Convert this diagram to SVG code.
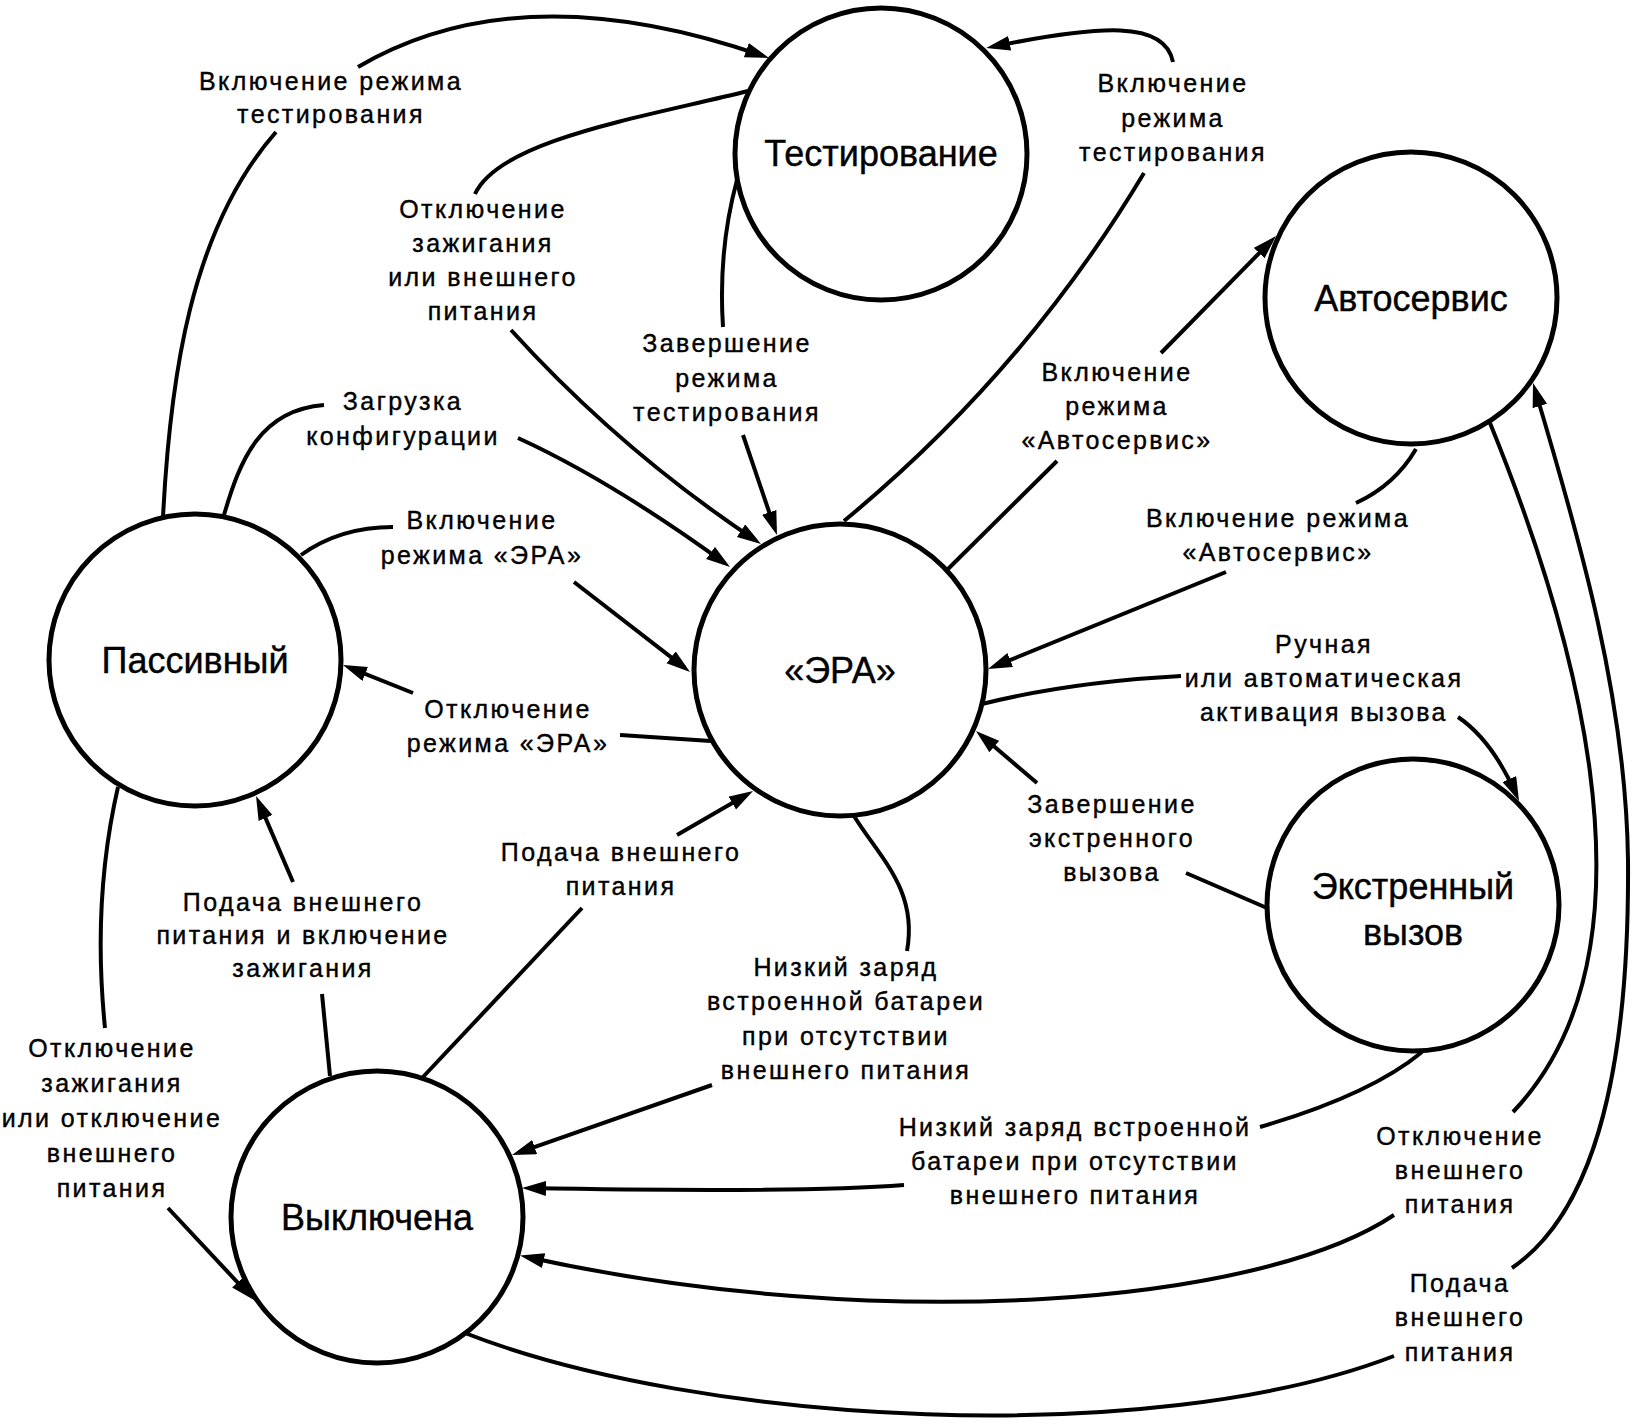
<svg xmlns="http://www.w3.org/2000/svg" width="1635" height="1428" viewBox="0 0 1635 1428">
<style>
.node circle{fill:#fff;stroke:#000;stroke-width:5}
.nl{font-family:"Liberation Sans",Arial,sans-serif;font-size:36px;text-anchor:middle;fill:#000;stroke:#000;stroke-width:0.4}
.el{font-family:"Liberation Sans",Arial,sans-serif;font-size:25px;letter-spacing:2.4px;text-anchor:middle;fill:#000;stroke:#000;stroke-width:0.4}
.c{fill:none;stroke:#000;stroke-width:4}
.a{marker-end:url(#arr)}
</style>
<defs>
<marker id="arr" markerUnits="userSpaceOnUse" markerWidth="26" markerHeight="16" refX="17" refY="7.5" orient="auto">
<path d="M0,0 L24,7.5 L0,15 Z" fill="#000"/>
</marker>
</defs>
<rect width="1635" height="1428" fill="#fff"/>
<g id="connectors">
<g id="e1">
<path class="c" d="M163,517 C170,380 190,230 276,132"/>
<path class="c a" d="M358,67 Q520,-28 762.4,55.7"/>
<text class="el"><tspan x="331" y="90">Включение режима</tspan><tspan x="331" y="123">тестирования</tspan></text>
</g>
<g id="e2">
<path class="c" d="M748,91 C640,118 500,140 475,194"/>
<path class="c a" d="M511,330 Q620,450 755.2,540.1"/>
<text class="el"><tspan x="483" y="218">Отключение</tspan><tspan x="483" y="252">зажигания</tspan><tspan x="483" y="286">или внешнего</tspan><tspan x="483" y="320">питания</tspan></text>
</g>
<g id="e3">
<path class="c" d="M737,180 Q718,250 723,327"/>
<path class="c a" d="M743,435 L774.7,528.4"/>
<text class="el"><tspan x="727" y="352">Завершение</tspan><tspan x="727" y="387">режима</tspan><tspan x="727" y="421">тестирования</tspan></text>
</g>
<g id="e4">
<path class="c" d="M224,515 C240,460 260,410 324,405"/>
<path class="c a" d="M518,438 Q610,480 724.3,562.9"/>
<text class="el"><tspan x="403" y="410">Загрузка</tspan><tspan x="403" y="445">конфигурации</tspan></text>
</g>
<g id="e5">
<path class="c" d="M301,555 Q340,527 393,527"/>
<path class="c a" d="M574,582 L684.5,667.7"/>
<text class="el"><tspan x="482" y="529">Включение</tspan><tspan x="482" y="564">режима «ЭРА»</tspan></text>
</g>
<g id="e6">
<path class="c" d="M711,741 L620,735"/>
<path class="c a" d="M413,693 L349.5,667.6"/>
<text class="el"><tspan x="508" y="718">Отключение</tspan><tspan x="508" y="752">режима «ЭРА»</tspan></text>
</g>
<g id="e7">
<path class="c" d="M844,521 Q1024,373 1144,173"/>
<path class="c a" d="M1173,62 C1165,20 1100,25 993,46.6"/>
<text class="el"><tspan x="1173" y="92">Включение</tspan><tspan x="1173" y="127">режима</tspan><tspan x="1173" y="161">тестирования</tspan></text>
</g>
<g id="e8">
<path class="c" d="M948,569 L1057,461"/>
<path class="c a" d="M1161,353 L1271.1,241"/>
<text class="el"><tspan x="1117" y="381">Включение</tspan><tspan x="1117" y="415">режима</tspan><tspan x="1117" y="449">«Автосервис»</tspan></text>
</g>
<g id="e9">
<path class="c" d="M1416,449 Q1395,485 1356,503"/>
<path class="c a" d="M1226,572 L994.5,666.4"/>
<text class="el"><tspan x="1278" y="527">Включение режима</tspan><tspan x="1278" y="561">«Автосервис»</tspan></text>
</g>
<g id="e10">
<path class="c" d="M982,704 Q1070,682 1181,676"/>
<path class="c a" d="M1458,717 Q1492,740 1516.2,794.6"/>
<text class="el"><tspan x="1324" y="653">Ручная</tspan><tspan x="1324" y="687">или автоматическая</tspan><tspan x="1324" y="721">активация вызова</tspan></text>
</g>
<g id="e11">
<path class="c" d="M1267,908 L1186,873"/>
<path class="c a" d="M1037,783 L981.3,735.5"/>
<text class="el"><tspan x="1112" y="813">Завершение</tspan><tspan x="1112" y="847">экстренного</tspan><tspan x="1112" y="881">вызова</tspan></text>
</g>
<g id="e12">
<path class="c" d="M854,816 C880,858 918,890 907,951"/>
<path class="c a" d="M712,1085 L518.6,1152.7"/>
<text class="el"><tspan x="846" y="976">Низкий заряд</tspan><tspan x="846" y="1010">встроенной батареи</tspan><tspan x="846" y="1045">при отсутствии</tspan><tspan x="846" y="1079">внешнего питания</tspan></text>
</g>
<g id="e13">
<path class="c" d="M423,1077 L582,908"/>
<path class="c a" d="M677,835 L747,794.5"/>
<text class="el"><tspan x="621" y="861">Подача внешнего</tspan><tspan x="621" y="895">питания</tspan></text>
</g>
<g id="e14">
<path class="c" d="M330,1076 L322,994"/>
<path class="c a" d="M293,882 L258.8,802.4"/>
<text class="el"><tspan x="303" y="911">Подача внешнего</tspan><tspan x="303" y="944">питания и включение</tspan><tspan x="303" y="977">зажигания</tspan></text>
</g>
<g id="e15">
<path class="c" d="M118,787 Q92,900 105,1028"/>
<path class="c a" d="M168,1208 L249.2,1294.9"/>
<text class="el"><tspan x="112" y="1057">Отключение</tspan><tspan x="112" y="1092">зажигания</tspan><tspan x="112" y="1127">или отключение</tspan><tspan x="112" y="1162">внешнего</tspan><tspan x="112" y="1197">питания</tspan></text>
</g>
<g id="e16">
<path class="c" d="M1422,1052 Q1370,1095 1260,1127"/>
<path class="c a" d="M904,1185 Q800,1193 529,1188.1"/>
<text class="el"><tspan x="1075" y="1136">Низкий заряд встроенной</tspan><tspan x="1075" y="1170">батареи при отсутствии</tspan><tspan x="1075" y="1204">внешнего питания</tspan></text>
</g>
<g id="e17">
<path class="c" d="M1490,423 C1562,600 1676,940 1513,1112"/>
<path class="c a" d="M1394,1215 C1260,1305 880,1335 527,1257"/>
<text class="el"><tspan x="1460" y="1145">Отключение</tspan><tspan x="1460" y="1179">внешнего</tspan><tspan x="1460" y="1213">питания</tspan></text>
</g>
<g id="e18">
<path class="c" d="M465,1333 C700,1425 1150,1450 1394,1356"/>
<path class="c a" d="M1512,1268 C1575,1225 1630,1120 1628,860 C1626,700 1580,540 1535,389.7"/>
<text class="el"><tspan x="1460" y="1292">Подача</tspan><tspan x="1460" y="1326">внешнего</tspan><tspan x="1460" y="1361">питания</tspan></text>
</g>
</g>
<g id="node-testing" class="node"><circle cx="881" cy="154" r="146"/><text class="nl" x="881" y="166">Тестирование</text></g>
<g id="node-autoservice" class="node"><circle cx="1411" cy="298" r="146"/><text class="nl" x="1411" y="311">Автосервис</text></g>
<g id="node-era" class="node"><circle cx="840" cy="670" r="146"/><text class="nl" x="840" y="683">«ЭРА»</text></g>
<g id="node-passive" class="node"><circle cx="195" cy="660" r="146"/><text class="nl" x="195" y="673">Пассивный</text></g>
<g id="node-off" class="node"><circle cx="377" cy="1217" r="146"/><text class="nl" x="377" y="1230">Выключена</text></g>
<g id="node-emergency" class="node"><circle cx="1413" cy="905" r="146"/><text class="nl" x="1413" y="899">Экстренный</text><text class="nl" x="1413" y="945">вызов</text></g>
</svg>
